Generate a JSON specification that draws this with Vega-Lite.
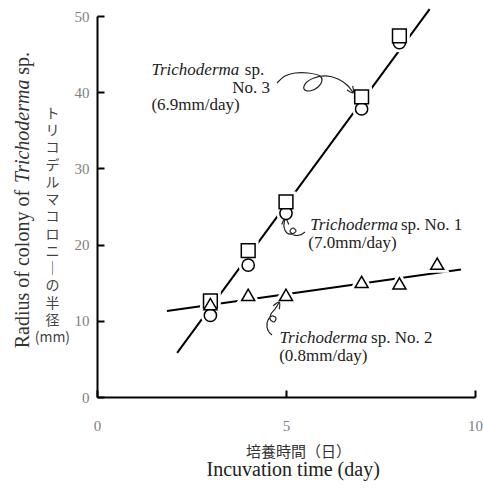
{
  "$schema": "https://vega.github.io/schema/vega-lite/v6.json",
  "width": 378,
  "height": 381,
  "autosize": {"type": "none"},
  "padding": {"left": 97, "top": 16, "right": 8, "bottom": 91},
  "background": "white",
  "config": {"view": {"stroke": null}},
  "datasets": {
    "points": [
      {"day": 3, "radius": 10.7, "strain": "No. 1"},
      {"day": 4, "radius": 17.3, "strain": "No. 1"},
      {"day": 5, "radius": 24.1, "strain": "No. 1"},
      {"day": 7, "radius": 37.8, "strain": "No. 1"},
      {"day": 8, "radius": 46.5, "strain": "No. 1"},
      {"day": 3, "radius": 12.6, "strain": "No. 3"},
      {"day": 4, "radius": 19.2, "strain": "No. 3"},
      {"day": 5, "radius": 25.6, "strain": "No. 3"},
      {"day": 7, "radius": 39.4, "strain": "No. 3"},
      {"day": 8, "radius": 47.4, "strain": "No. 3"},
      {"day": 3, "radius": 12.2, "strain": "No. 2"},
      {"day": 4, "radius": 13.4, "strain": "No. 2"},
      {"day": 5, "radius": 13.4, "strain": "No. 2"},
      {"day": 7, "radius": 15.1, "strain": "No. 2"},
      {"day": 8, "radius": 14.9, "strain": "No. 2"},
      {"day": 9, "radius": 17.5, "strain": "No. 2"}
    ],
    "fits": [
      {"day": 2.12, "radius": 5.8, "fit": "fast"},
      {"day": 8.8, "radius": 50.9, "fit": "fast"},
      {"day": 1.85, "radius": 11.3, "fit": "slow"},
      {"day": 9.63, "radius": 16.74, "fit": "slow"}
    ],
    "arrows": [
      {"arrow": "a3", "order": 1, "day": 4.762, "radius": 41.21},
      {"arrow": "a3", "order": 2, "day": 4.974, "radius": 42.13},
      {"arrow": "a3", "order": 3, "day": 5.238, "radius": 42.52},
      {"arrow": "a3", "order": 4, "day": 5.582, "radius": 42.52},
      {"arrow": "a3", "order": 5, "day": 5.899, "radius": 42.13},
      {"arrow": "a3", "order": 6, "day": 5.952, "radius": 41.6},
      {"arrow": "a3", "order": 7, "day": 5.847, "radius": 40.68},
      {"arrow": "a3", "order": 8, "day": 5.635, "radius": 40.16},
      {"arrow": "a3", "order": 9, "day": 5.476, "radius": 40.42},
      {"arrow": "a3", "order": 10, "day": 5.529, "radius": 41.21},
      {"arrow": "a3", "order": 11, "day": 5.741, "radius": 41.86},
      {"arrow": "a3", "order": 12, "day": 6.058, "radius": 42.13},
      {"arrow": "a3", "order": 13, "day": 6.376, "radius": 41.73},
      {"arrow": "a3", "order": 14, "day": 6.614, "radius": 40.94},
      {"arrow": "a3", "order": 15, "day": 6.78, "radius": 39.91},
      {"arrow": "h3", "order": 1, "day": 6.762, "radius": 40.82},
      {"arrow": "h3", "order": 2, "day": 6.78, "radius": 39.91},
      {"arrow": "h3", "order": 3, "day": 6.614, "radius": 40.29},
      {"arrow": "a1", "order": 1, "day": 4.981, "radius": 23.48},
      {"arrow": "a1", "order": 2, "day": 4.947, "radius": 22.31},
      {"arrow": "a1", "order": 3, "day": 5.026, "radius": 21.52},
      {"arrow": "a1", "order": 4, "day": 5.159, "radius": 21.39},
      {"arrow": "a1", "order": 5, "day": 5.265, "radius": 21.78},
      {"arrow": "a1", "order": 6, "day": 5.185, "radius": 22.18},
      {"arrow": "a1", "order": 7, "day": 5.106, "radius": 21.78},
      {"arrow": "a1", "order": 8, "day": 5.212, "radius": 21.26},
      {"arrow": "a1", "order": 9, "day": 5.37, "radius": 21.26},
      {"arrow": "a1", "order": 10, "day": 5.503, "radius": 21.65},
      {"arrow": "h1", "order": 1, "day": 4.889, "radius": 22.63},
      {"arrow": "h1", "order": 2, "day": 4.981, "radius": 23.48},
      {"arrow": "h1", "order": 3, "day": 5.074, "radius": 22.63},
      {"arrow": "a2", "order": 1, "day": 4.823, "radius": 12.44},
      {"arrow": "a2", "order": 2, "day": 4.709, "radius": 11.55},
      {"arrow": "a2", "order": 3, "day": 4.603, "radius": 10.89},
      {"arrow": "a2", "order": 4, "day": 4.577, "radius": 10.24},
      {"arrow": "a2", "order": 5, "day": 4.683, "radius": 9.84},
      {"arrow": "a2", "order": 6, "day": 4.735, "radius": 10.37},
      {"arrow": "a2", "order": 7, "day": 4.63, "radius": 10.63},
      {"arrow": "a2", "order": 8, "day": 4.524, "radius": 10.1},
      {"arrow": "a2", "order": 9, "day": 4.497, "radius": 9.19},
      {"arrow": "a2", "order": 10, "day": 4.55, "radius": 8.53},
      {"arrow": "a2", "order": 11, "day": 4.63, "radius": 8.14},
      {"arrow": "h2", "order": 1, "day": 4.664, "radius": 11.98},
      {"arrow": "h2", "order": 2, "day": 4.823, "radius": 12.44},
      {"arrow": "h2", "order": 3, "day": 4.823, "radius": 11.52}
    ],
    "italicLabels": [
      {"text": "Trichoderma", "day": 1.44, "radius": 42.93},
      {"text": "Trichoderma", "day": 5.64, "radius": 22.56},
      {"text": "Trichoderma", "day": 4.83, "radius": 7.71}
    ],
    "plainLabels": [
      {"text": "sp.", "day": 3.91, "radius": 42.93},
      {"text": "No. 3", "day": 3.58, "radius": 40.57},
      {"text": "(6.9mm/day)", "day": 1.44, "radius": 38.33},
      {"text": "sp. No. 1", "day": 8.04, "radius": 22.56},
      {"text": "(7.0mm/day)", "day": 5.59, "radius": 20.2},
      {"text": "sp. No. 2", "day": 7.25, "radius": 7.71},
      {"text": "(0.8mm/day)", "day": 4.82, "radius": 5.35}
    ],
    "yTitlePlain": [
      {"text": "Radius of colony of", "day": -1.95, "radius": 6.4},
      {"text": "sp.", "day": -1.95, "radius": 42.3}
    ],
    "yTitleItalic": [
      {"text": "Trichoderma", "day": -1.95, "radius": 28.1}
    ],
    "yTitleJa": [
      {"text": "ト\nリ\nコ\nデ\nル\nマ\nコ\nロ\nニ\n｜\nの\n半\n径\n(mm)", "day": -1.18, "radius": 38.07}
    ],
    "xTitleEn": [
      {"text": "Incuvation time (day)", "day": 5.19, "radius": -9.63}
    ],
    "xTitleJa": [
      {"text": "培養時間（日）", "day": 5.33, "radius": -7.27}
    ]
  },
  "encoding": {
    "x": {
      "field": "day", "type": "quantitative",
      "scale": {"domain": [0, 10], "nice": false, "zero": false},
      "axis": {
        "values": [0, 5, 10], "title": null, "grid": false,
        "domainColor": "black", "domainWidth": 2,
        "tickColor": "black", "tickWidth": 2, "tickSize": -7,
        "labelPadding": 28, "labelFont": "Liberation Serif", "labelFontSize": 15,
        "labelColor": "#808080", "labelFlush": false
      }
    },
    "y": {
      "field": "radius", "type": "quantitative",
      "scale": {"domain": [0, 50], "nice": false, "zero": false},
      "axis": {
        "values": [0, 10, 20, 30, 40, 50], "title": null, "grid": false,
        "domainColor": "black", "domainWidth": 2,
        "tickColor": "black", "tickWidth": 2, "tickSize": -7,
        "labelPadding": 15, "labelFont": "Liberation Serif", "labelFontSize": 15,
        "labelColor": "#808080", "labelFlush": false
      }
    }
  },
  "layer": [
    {
      "data": {"name": "fits"},
      "mark": {"type": "line", "color": "black", "strokeWidth": 2},
      "encoding": {"detail": {"field": "fit"}}
    },
    {
      "data": {"name": "points"},
      "mark": {"type": "point", "filled": true, "fill": "white", "stroke": "white", "strokeWidth": 7, "opacity": 1},
      "encoding": {
        "shape": {
          "field": "strain", "type": "nominal",
          "scale": {"domain": ["No. 1", "No. 2", "No. 3"], "range": ["circle", "triangle-up", "square"]},
          "legend": null
        },
        "size": {
          "field": "strain", "type": "nominal",
          "scale": {"domain": ["No. 1", "No. 2", "No. 3"], "range": [150, 190, 110]},
          "legend": null
        }
      }
    },
    {
      "data": {"name": "arrows"},
      "mark": {"type": "line", "color": "#222", "strokeWidth": 1.2, "interpolate": "catmull-rom"},
      "encoding": {"detail": {"field": "arrow"}, "order": {"field": "order"}}
    },
    {
      "data": {"name": "points"},
      "mark": {"type": "point", "filled": true, "fill": "white", "stroke": "black", "strokeWidth": 1.5, "opacity": 1},
      "encoding": {
        "shape": {
          "field": "strain", "type": "nominal",
          "scale": {"domain": ["No. 1", "No. 2", "No. 3"], "range": ["circle", "triangle-up", "square"]},
          "legend": null
        },
        "size": {
          "field": "strain", "type": "nominal",
          "scale": {"domain": ["No. 1", "No. 2", "No. 3"], "range": [150, 190, 110]},
          "legend": null
        }
      }
    },
    {
      "data": {"name": "italicLabels"},
      "mark": {"type": "text", "align": "left", "baseline": "middle", "font": "Liberation Serif", "fontStyle": "italic", "fontSize": 17, "color": "#222"},
      "encoding": {"text": {"field": "text"}}
    },
    {
      "data": {"name": "plainLabels"},
      "mark": {"type": "text", "align": "left", "baseline": "middle", "font": "Liberation Serif", "fontSize": 17, "color": "#222"},
      "encoding": {"text": {"field": "text"}}
    },
    {
      "data": {"name": "yTitlePlain"},
      "mark": {"type": "text", "align": "left", "baseline": "middle", "angle": 270, "font": "Liberation Serif", "fontSize": 20, "color": "#333"},
      "encoding": {"text": {"field": "text"}}
    },
    {
      "data": {"name": "yTitleItalic"},
      "mark": {"type": "text", "align": "left", "baseline": "middle", "angle": 270, "font": "Liberation Serif", "fontStyle": "italic", "fontSize": 20, "color": "#333"},
      "encoding": {"text": {"field": "text"}}
    },
    {
      "data": {"name": "yTitleJa"},
      "mark": {"type": "text", "align": "center", "baseline": "top", "lineBreak": "\n", "lineHeight": 17.25, "font": "Noto Sans CJK JP", "fontSize": 14, "color": "#444"},
      "encoding": {"text": {"field": "text"}}
    },
    {
      "data": {"name": "xTitleEn"},
      "mark": {"type": "text", "align": "center", "baseline": "middle", "font": "Liberation Serif", "fontSize": 20, "color": "#222"},
      "encoding": {"text": {"field": "text"}}
    },
    {
      "data": {"name": "xTitleJa"},
      "mark": {"type": "text", "align": "center", "baseline": "middle", "font": "Noto Sans CJK JP", "fontSize": 15, "color": "#333"},
      "encoding": {"text": {"field": "text"}}
    }
  ]
}
